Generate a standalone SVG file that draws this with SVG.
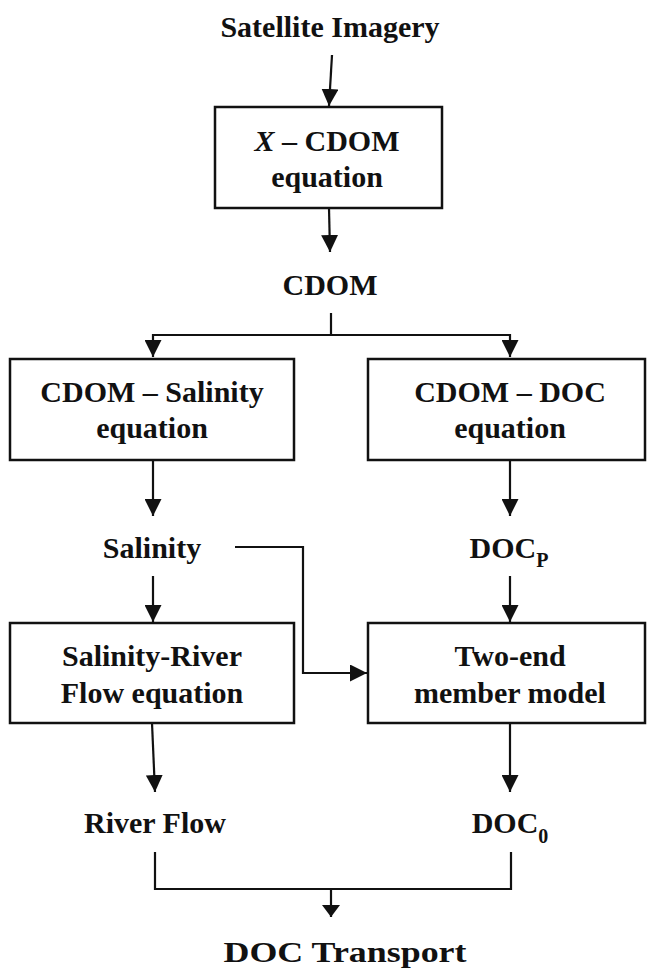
<svg xmlns="http://www.w3.org/2000/svg" width="647" height="969" viewBox="0 0 647 969">
<defs>
<style>
.t{font-family:"Liberation Serif","Times New Roman",serif;font-weight:bold;font-size:30px;fill:#111;text-anchor:middle}
.box{fill:#fff;stroke:#111;stroke-width:2.5}
.ln{fill:none;stroke:#111;stroke-width:2.2}
.sub{font-size:20px}
</style>
<marker id="ah" markerUnits="userSpaceOnUse" markerWidth="17" markerHeight="17" refX="17" refY="8.5" orient="auto" viewBox="0 0 17 17">
<path d="M0,0 L17,8.5 L0,17 z" fill="#111"/>
</marker>
<marker id="ahs" markerUnits="userSpaceOnUse" markerWidth="12" markerHeight="18" refX="12" refY="9" orient="auto" viewBox="0 0 12 18">
<path d="M0,0 L12,9 L0,18 z" fill="#111"/>
</marker>
</defs>
<rect width="647" height="969" fill="#fff"/>

<g id="connectors">
<line class="ln" x1="332" y1="55" x2="329" y2="106" marker-end="url(#ah)"/>
<line class="ln" x1="329" y1="208" x2="330" y2="252" marker-end="url(#ah)"/>
<polyline class="ln" points="331,313 331,335"/>
<polyline class="ln" points="331,335 153,335 153,357" marker-end="url(#ah)"/>
<polyline class="ln" points="331,335 510,335 510,357" marker-end="url(#ah)"/>
<line class="ln" x1="153" y1="460" x2="153" y2="516" marker-end="url(#ah)"/>
<line class="ln" x1="510" y1="460" x2="510" y2="516" marker-end="url(#ah)"/>
<polyline class="ln" points="235,547 303,547 303,673 367,673" marker-end="url(#ah)"/>
<line class="ln" x1="153" y1="576" x2="153" y2="622" marker-end="url(#ah)"/>
<line class="ln" x1="510" y1="576" x2="510" y2="622" marker-end="url(#ah)"/>
<line class="ln" x1="152" y1="723" x2="155" y2="792" marker-end="url(#ah)"/>
<line class="ln" x1="510" y1="723" x2="510" y2="792" marker-end="url(#ah)"/>
<polyline class="ln" points="155,852 155,889 511,889 511,852"/>
<line class="ln" x1="331" y1="889" x2="331" y2="917" marker-end="url(#ahs)"/>
</g>

<g id="satellite">
<text class="t" x="330" y="37">Satellite Imagery</text>
</g>
<g id="x-cdom">
<rect class="box" x="215" y="107" width="227" height="101"/>
<text class="t" x="327" y="151"><tspan font-style="italic">X</tspan> – CDOM</text>
<text class="t" x="327" y="187">equation</text>
</g>
<g id="cdom">
<text class="t" x="330" y="295">CDOM</text>
</g>
<g id="cdom-salinity">
<rect class="box" x="10" y="359" width="284" height="101"/>
<text class="t" x="152" y="402">CDOM – Salinity</text>
<text class="t" x="152" y="438">equation</text>
</g>
<g id="cdom-doc">
<rect class="box" x="368" y="359" width="277" height="101"/>
<text class="t" x="510" y="402">CDOM – DOC</text>
<text class="t" x="510" y="438">equation</text>
</g>
<g id="salinity">
<text class="t" x="152" y="558">Salinity</text>
</g>
<g id="docp">
<text class="t" x="509" y="558">DOC<tspan class="sub" dy="9">P</tspan></text>
</g>
<g id="salinity-river">
<rect class="box" x="10" y="623" width="284" height="100"/>
<text class="t" x="152" y="666">Salinity-River</text>
<text class="t" x="152" y="703">Flow equation</text>
</g>
<g id="two-end">
<rect class="box" x="368" y="623" width="277" height="100"/>
<text class="t" x="510" y="666">Two-end</text>
<text class="t" x="510" y="703">member model</text>
</g>
<g id="river-flow">
<text class="t" x="155" y="833">River Flow</text>
</g>
<g id="doc0">
<text class="t" x="510" y="833">DOC<tspan class="sub" dy="10">0</tspan></text>
</g>
<g id="doc-transport">
<text class="t" x="345" y="962" font-size="34" textLength="243" lengthAdjust="spacingAndGlyphs">DOC Transport</text>
</g>
</svg>
